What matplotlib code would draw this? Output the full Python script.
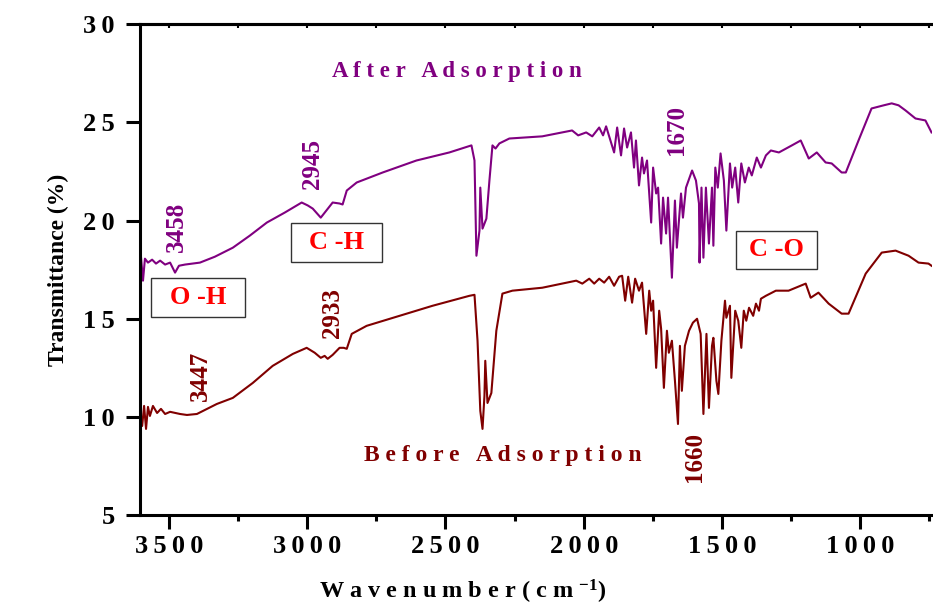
import matplotlib
matplotlib.use("Agg")
import matplotlib.pyplot as plt
from matplotlib.patches import Rectangle

plt.rcParams['font.family'] = ['Liberation Serif', 'DejaVu Serif']
plt.rcParams['font.weight'] = 'bold'
plt.rcParams['axes.labelweight'] = 'bold'
plt.rcParams['mathtext.fontset'] = 'custom'
plt.rcParams['mathtext.rm'] = 'Liberation Serif:bold'
plt.rcParams['mathtext.default'] = 'rm'

# FTIR spectrum after adsorption (wavenumber cm-1, transmittance %)
after_wn = [3601, 3594, 3587, 3576, 3561, 3547, 3532, 3514, 3496, 3478, 3464,
            3442, 3388, 3334, 3269, 3208, 3146, 3081, 3020, 2998, 2980, 2951,
            2908, 2883, 2872, 2857, 2821, 2727, 2605, 2486, 2406, 2395, 2388,
            2377, 2374, 2366, 2352, 2341, 2330, 2319, 2305, 2269, 2150, 2042,
            2020, 1991, 1969, 1944, 1930, 1919, 1890, 1879, 1865, 1854, 1843,
            1829, 1818, 1811, 1800, 1789, 1782, 1771, 1756, 1749, 1738, 1731,
            1720, 1713, 1702, 1695, 1681, 1670, 1663, 1648, 1641, 1630, 1608,
            1594, 1583, 1581, 1574, 1567, 1558, 1547, 1536, 1531, 1524, 1515,
            1505, 1493, 1484, 1471, 1463, 1452, 1441, 1430, 1417, 1403, 1392,
            1374, 1359, 1341, 1323, 1294, 1247, 1215, 1186, 1157, 1125, 1103,
            1067, 1052, 1006, 959, 915, 886, 861, 836, 800, 764, 742]
after_t = [18.11, 16.94, 18.06, 17.86, 18.01, 17.81, 17.96, 17.76, 17.86, 17.35, 17.70,
           17.76, 17.86, 18.16, 18.62, 19.23, 19.90, 20.41, 20.92, 20.77, 20.61, 20.15,
           20.92, 20.87, 20.82, 21.53, 21.94, 22.45, 23.06, 23.47, 23.83, 23.06, 18.21,
           19.49, 21.68, 19.59, 20.10, 22.04, 23.83, 23.67, 23.93, 24.18, 24.29, 24.59,
           24.34, 24.49, 24.29, 24.74, 24.34, 24.80, 23.47, 24.74, 23.32, 24.69, 23.72,
           24.49, 22.70, 24.08, 21.79, 23.21, 22.40, 23.06, 19.90, 22.70, 21.38, 21.68,
           18.83, 21.17, 19.34, 21.17, 17.09, 21.02, 18.62, 21.38, 20.15, 21.68, 22.55,
           22.04, 20.87, 17.86, 21.68, 18.11, 21.68, 18.83, 21.68, 18.72, 22.70, 21.68,
           23.42, 22.04, 19.49, 22.91, 21.68, 22.70, 20.92, 22.91, 21.94, 22.70, 22.30,
           23.21, 22.70, 23.32, 23.57, 23.47, 23.83, 24.08, 23.16, 23.47, 22.96, 22.91,
           22.45, 22.45, 24.08, 25.71, 25.87, 25.97, 25.87, 25.61, 25.20, 25.10, 24.49]

# FTIR spectrum before adsorption
before_wn = [3605, 3597, 3590, 3583, 3576, 3569, 3558, 3543, 3529, 3514, 3496,
             3460, 3435, 3399, 3327, 3269, 3197, 3125, 3052, 3002, 2973, 2951,
             2937, 2926, 2908, 2883, 2868, 2857, 2839, 2785, 2666, 2547, 2413,
             2395, 2384, 2374, 2366, 2359, 2356, 2348, 2334, 2316, 2294, 2258,
             2150, 2027, 2005, 1980, 1962, 1944, 1926, 1908, 1890, 1872, 1861,
             1850, 1839, 1825, 1814, 1800, 1789, 1774, 1763, 1756, 1749, 1738,
             1727, 1720, 1710, 1699, 1692, 1681, 1670, 1659, 1652, 1645, 1634,
             1619, 1605, 1590, 1577, 1567, 1556, 1547, 1536, 1531, 1520, 1513,
             1502, 1489, 1484, 1471, 1466, 1452, 1441, 1430, 1421, 1412, 1402,
             1387, 1377, 1366, 1359, 1341, 1305, 1259, 1197, 1179, 1151, 1114,
             1067, 1042, 980, 922, 872, 825, 789, 753, 742]
before_t = [10.31, 9.54, 10.56, 9.39, 10.51, 10.05, 10.56, 10.20, 10.41, 10.15, 10.26,
            10.15, 10.10, 10.15, 10.66, 10.97, 11.73, 12.60, 13.21, 13.52, 13.27, 13.01,
            13.11, 12.96, 13.16, 13.52, 13.52, 13.47, 14.23, 14.64, 15.15, 15.66, 16.17,
            16.22, 13.88, 10.31, 9.39, 11.07, 12.86, 10.71, 11.22, 14.39, 16.28, 16.43,
            16.58, 16.94, 16.79, 17.04, 16.79, 17.04, 16.84, 17.14, 16.68, 17.14, 17.19,
            15.92, 17.14, 15.82, 17.04, 16.43, 16.84, 14.23, 16.43, 15.41, 15.92, 12.50,
            15.41, 14.49, 11.48, 14.39, 13.27, 13.88, 11.84, 9.64, 13.62, 11.33, 13.62,
            14.39, 14.80, 15.00, 14.23, 10.15, 14.23, 10.46, 13.62, 14.03, 11.84, 11.17,
            13.88, 15.92, 15.05, 15.66, 11.99, 15.41, 14.90, 13.52, 15.41, 14.90, 15.56,
            15.15, 15.77, 15.41, 16.02, 16.17, 16.43, 16.43, 16.79, 16.07, 16.33, 15.77,
            15.26, 15.26, 17.30, 18.37, 18.47, 18.21, 17.86, 17.81, 17.70]

xticks = [3500, 3000, 2500, 2000, 1500, 1000]
yticks = [5, 10, 15, 20, 25, 30]

after_peaks = ['3458', '2945', '1670']
after_peak_pos = [(3474, 19.7), (2980, 22.9), (1663, 24.6)]
before_peaks = ['3447', '2933', '1660']
before_peak_pos = [(3388, 12.1), (2908, 15.3), (1600, 7.96)]
groups = ['O -H', 'C -H', 'C -O']
group_pos = [(3395, 16.07), (2893, 18.88), (1302, 18.52)]
group_box = [(339, 1.99), (329, 1.99), (292, 1.94)]

purple = '#800080'
brown = '#800000'


def spaced(s, sep=' '):
    return sep.join(s)


fig = plt.figure(figsize=(9.33, 6.06), dpi=100)
ax = fig.add_axes([0.150, 0.150, 0.849, 0.810])

ax.plot(after_wn, after_t, color=purple, lw=1.5)
ax.plot(before_wn, before_t, color=brown, lw=1.5)

ax.set_xlim(3605, 740)
ax.set_ylim(5, 30)
ax.set_xticks(xticks)
ax.set_xticks([3250, 2750, 2250, 1750, 1250, 750], minor=True)
ax.set_xticklabels([spaced(str(v), '\u2009') for v in xticks])
ax.set_yticks(yticks)
ax.set_yticklabels([spaced(str(v), '\u2009') for v in yticks])

for side in ['left', 'bottom', 'top']:
    ax.spines[side].set_linewidth(2.2)
ax.spines['right'].set_visible(False)

ax.tick_params(axis='both', which='major', labelsize=19, width=2.2, length=10,
               direction='out')
ax.tick_params(axis='x', which='major', pad=4)
ax.tick_params(axis='y', which='major', pad=8)
ax.tick_params(axis='x', which='minor', width=2.2, length=4, direction='out')
ax.tick_params(axis='y', right=False)

top = ax.secondary_xaxis('top')
top.set_xticks(xticks)
top.set_xticks([3250, 2750, 2250, 1750, 1250, 750], minor=True)
top.tick_params(which='both', direction='in', length=3, width=1.5,
                labeltop=False)
top.spines['top'].set_linewidth(2.2)

ax.text(2460, 27.6, spaced('After Adsorption'), color=purple, fontsize=16.5,
        fontweight='bold', ha='center', va='center')
ax.text(2294, 8.06, spaced('Before Adsorption'), color=brown, fontsize=17,
        fontweight='bold', ha='center', va='center')

for (wn, t), lab in zip(after_peak_pos, after_peaks):
    ax.text(wn, t, lab, color=purple, fontsize=18, fontweight='bold',
            rotation=90, ha='center', va='center')
for (wn, t), lab in zip(before_peak_pos, before_peaks):
    ax.text(wn, t, lab, color=brown, fontsize=18, fontweight='bold',
            rotation=90, ha='center', va='center')

for (wn, t), (bw, bh), lab in zip(group_pos, group_box, groups):
    ax.add_patch(Rectangle((wn + bw / 2, t - bh / 2), -bw, bh, fc='white',
                           ec='#333333', lw=1, zorder=3))
    ax.text(wn, t, lab, color='red', fontsize=19, fontweight='bold',
            ha='center', va='center', zorder=4)

ax.set_ylabel('Transmittance (%)', fontsize=17, labelpad=10)
fig.text(463 / 933, 1 - 592 / 606, spaced('Wavenumber(cm') + r' $^{-1}$)',
         fontsize=17.5, fontweight='bold', ha='center', va='center')

fig.savefig('out.png', dpi=100)
